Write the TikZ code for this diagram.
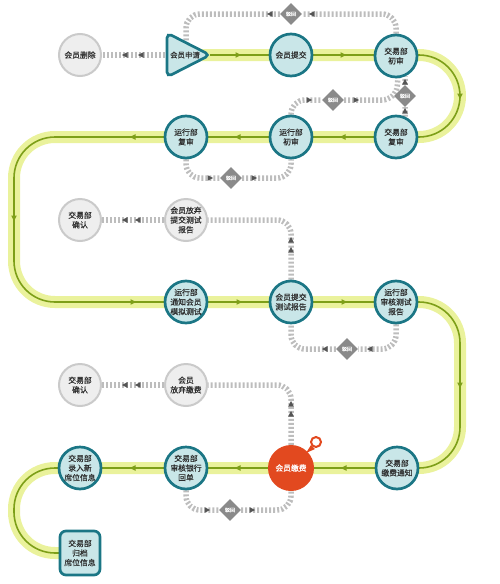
\documentclass[tikz,border=0pt]{standalone}
\usepackage{fontspec}
\newfontfamily\cjk[FakeBold=0.5]{Noto Sans CJK SC}
\usetikzlibrary{shapes.geometric}
\pgfdeclarelayer{bg}
\pgfsetlayers{bg,main}
\definecolor{teal1}{HTML}{1B7685}
\definecolor{cyanf}{HTML}{C9E6E8}
\definecolor{bandy}{HTML}{EAF29C}
\definecolor{lineg}{HTML}{7D9F18}
\definecolor{dotg}{HTML}{BDBDBD}
\definecolor{arrg}{HTML}{555555}
\definecolor{diag}{HTML}{8A8A8A}
\definecolor{redf}{HTML}{E2491F}
\definecolor{txt}{HTML}{2E2E2E}
\definecolor{grayf}{HTML}{EEEEEE}
\definecolor{grayb}{HTML}{CACACA}
\tikzset{
  arr/.pic={\fill (-2.5,-2.8) -- (3,0) -- (-2.5,2.8) -- cycle;},
  lbl/.style={font=\cjk\fontsize{7.8}{9.6}\selectfont, text=txt, align=center},
  stepnode/.style={circle, lbl, draw=teal1, line width=2.7pt, fill=cyanf, minimum size=42pt, inner sep=0pt},
  graynode/.style={circle, lbl, draw=grayb, line width=2pt, fill=grayf, minimum size=42pt, inner sep=0pt},
  paynode/.style={circle, font=\cjk\fontsize{7.8}{9.6}\selectfont, text=white, fill=redf, minimum size=46pt, inner sep=0pt},
  archnode/.style={rectangle, rounded corners=6pt, lbl, draw=teal1, line width=2.7pt, fill=cyanf, minimum width=40pt, minimum height=44pt, inner sep=0pt},
  back/.style={draw=dotg, line width=5.5pt, dash pattern=on 2pt off 2pt, rounded corners=14pt},
  reject/.style={diamond, aspect=1, fill=diag, text=white, font=\cjk\fontsize{5}{5}\selectfont, minimum size=22pt, inner sep=0pt},
  mainarr/.style={fill=lineg},
  backarr/.style={fill=arrg},
}
\begin{document}
\begin{tikzpicture}[x=1pt,y=-1pt]
\useasboundingbox (0,0) rectangle (500,584);

% ---------- nodes ----------
\node[graynode] (del) at (80,55) {会员删除};
\draw[teal1, fill=cyanf, line width=2.7pt, rounded corners=5pt] (167,33) -- (210,55) -- (167,77) -- cycle;
\node[lbl, font=\cjk\fontsize{7.4}{9}\selectfont] (apply) at (185,55) {会员申请};
\coordinate (applyL) at (165,55);
\coordinate (applyT) at (186,42);
\node[stepnode] (submit) at (291,55) {会员提交};
\node[stepnode] (jy1) at (396,56) {交易部\\初审};
\node[stepnode] (jy2) at (396,137) {交易部\\复审};
\node[stepnode] (yx1) at (291,137) {运行部\\初审};
\node[stepnode] (yx2) at (186,137) {运行部\\复审};
\node[graynode] (conf1) at (80,220) {交易部\\确认};
\node[graynode] (giveup1) at (186,220) {会员放弃\\提交测试\\报告};
\node[stepnode] (notify) at (186,302) {运行部\\通知会员\\模拟测试};
\node[stepnode] (report) at (291,302) {会员提交\\测试报告};
\node[stepnode] (audit) at (396,302) {运行部\\审核测试\\报告};
\node[graynode] (conf2) at (80,385) {交易部\\确认};
\node[graynode] (giveup2) at (186,385) {会员\\放弃缴费};
\node[stepnode] (fee) at (397,468) {交易部\\缴费通知};
\node[paynode] (pay) at (291,468) {会员缴费};
\node[stepnode] (bank) at (186,468) {交易部\\审核银行\\回单};
\node[stepnode] (entry) at (80,468) {交易部\\录入新\\席位信息};
\node[archnode] (arch) at (80,553) {交易部\\归档\\席位信息};

% pin marker
\fill[redf] (311,445) -- (306,453) -- (315,449) -- cycle;
\draw[redf, line width=2pt, fill=white] (316,442) circle (5pt);

% reject diamonds
\node[reject] (r1) at (291,14) {驳回};
\node[reject] (r2) at (405,96) {驳回};
\node[reject] (r3) at (333,100) {驳回};
\node[reject] (r4) at (231,178) {驳回};
\node[reject] (r5) at (347,349) {驳回};
\node[reject] (r6) at (230,510) {驳回};

\begin{pgfonlayer}{bg}
% ---------- main path ----------
\draw[bandy, line width=12pt, rounded corners=41pt]
  (187,55) -- (460,55) -- (460,137) -- (14,137) -- (14,302) -- (460,302)
  -- (460,468) -- (14,468) -- (14,553) -- (arch.center);
\draw[lineg, line width=1.6pt, rounded corners=41pt]
  (210,55) -- (460,55) -- (460,137) -- (14,137) -- (14,302) -- (460,302)
  -- (460,468) -- (14,468) -- (14,553) -- (arch.center);

% main arrows
\pic[mainarr] at (238,55) {arr};
\pic[mainarr] at (343,55) {arr};
\pic[mainarr, rotate=-90] at (460,96) {arr};
\pic[mainarr, rotate=180] at (343,137) {arr};
\pic[mainarr, rotate=180] at (238,137) {arr};
\pic[mainarr, rotate=180] at (133,137) {arr};
\pic[mainarr, rotate=-90] at (14,218) {arr};
\pic[mainarr] at (133,302) {arr};
\pic[mainarr] at (239,302) {arr};
\pic[mainarr] at (344,302) {arr};
\pic[mainarr, rotate=-90] at (460,385) {arr};
\pic[mainarr, rotate=180] at (344,468) {arr};
\pic[mainarr, rotate=180] at (238,468) {arr};
\pic[mainarr, rotate=180] at (133,468) {arr};

% ---------- return loops ----------
\draw[back] (jy1.north) -- (396,14) -- (r1) -- (186,14) -- (applyT);
\pic[backarr, rotate=180] at (270,14) {arr};
\pic[backarr, rotate=180] at (312,14) {arr};

\draw[back] (jy2.66) -- (r2) -- (jy1.-66);
\pic[backarr, rotate=90] at (405,82) {arr};
\pic[backarr, rotate=90] at (405,111) {arr};

\draw[back] (yx1.north) -- (291,100) -- (r3) -- (396,100) -- (jy1.-85);
\pic[backarr] at (309,100) {arr};
\pic[backarr] at (356,100) {arr};

\draw[back] (yx2.south) -- (186,178) -- (r4) -- (291,178) -- (yx1.south);
\pic[backarr] at (210,178) {arr};
\pic[backarr] at (254,178) {arr};

\draw[back] (report.north) -- (291,220) -- (giveup1.east);
\pic[backarr, rotate=90] at (291,240) {arr};
\pic[backarr, rotate=90] at (291,250) {arr};
\draw[back, rounded corners=0pt] (giveup1.west) -- (conf1.east);
\pic[backarr, rotate=180] at (125,220) {arr};
\pic[backarr, rotate=180] at (138,220) {arr};

\draw[back] (audit.south) -- (396,349) -- (r5) -- (291,349) -- (report.south);
\pic[backarr, rotate=180] at (325,349) {arr};
\pic[backarr, rotate=180] at (370,349) {arr};

\draw[back] (pay.north) -- (291,385) -- (giveup2.east);
\pic[backarr, rotate=90] at (291,404) {arr};
\pic[backarr, rotate=90] at (291,414) {arr};
\draw[back, rounded corners=0pt] (giveup2.west) -- (conf2.east);
\pic[backarr, rotate=180] at (125,385) {arr};
\pic[backarr, rotate=180] at (138,385) {arr};

\draw[back] (bank.south) -- (186,510) -- (r6) -- (291,510) -- (pay.south);
\pic[backarr] at (207,510) {arr};
\pic[backarr] at (252,510) {arr};

\draw[back, rounded corners=0pt] (applyL) -- (del.east);
\pic[backarr, rotate=180] at (125,55) {arr};
\pic[backarr, rotate=180] at (141,55) {arr};
\end{pgfonlayer}
\end{tikzpicture}
\end{document}
